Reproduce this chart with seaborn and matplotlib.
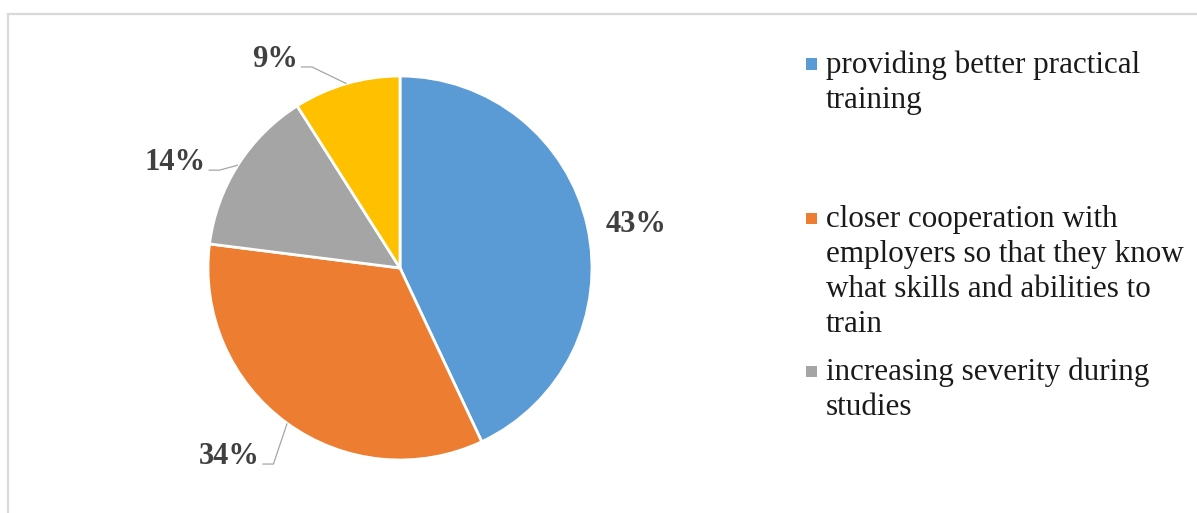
import numpy as np
import matplotlib
matplotlib.use("Agg")
import matplotlib.pyplot as plt
from matplotlib.patches import Rectangle
import seaborn as sns

# ---- data ----
categories = [
    "providing better practical\ntraining",
    "closer cooperation with\nemployers so that they know\nwhat skills and abilities to\ntrain",
    "increasing severity during\nstudies",
    "other",
]
values = [43, 34, 14, 9]
value_labels = ["43%", "34%", "14%", "9%"]
legend_shown = [True, True, True, False]
colors = ["#5B9BD5", "#ED7D31", "#A5A5A5", "#FFC000"]

sns.set_theme(style="white")
plt.rcParams["font.family"] = ["Liberation Serif", "DejaVu Serif"]

W, H = 1197, 513
fig = plt.figure(figsize=(W / 100, H / 100), dpi=100)
fig.patch.set_facecolor("white")

# chart frame (light gray, cut at right/bottom)
fig.patches.append(Rectangle((8 / W, -0.2), 1.3, 0.2 + 1 - 14 / H,
                             transform=fig.transFigure, fill=False,
                             edgecolor="#d9d9d9", linewidth=1.6, zorder=0))

# pie axes: centre at (400, 268) px, radius 192 px
cx, cy, R = 400, 268, 192
ax = fig.add_axes([0, 0, 700 / W, 1])
ax.pie(values, colors=sns.color_palette(colors), startangle=90, counterclock=False,
       radius=1.0, wedgeprops=dict(edgecolor="white", linewidth=2))
ax.set_xlim(-cx / R, (700 - cx) / R)
ax.set_ylim(-(H - cy) / R, cy / R)
ax.set_aspect("auto")
ax.axis("off")

# label layout: baseline point given as (radius, angle nudge in degrees)
label_r = [1.246, 1.355, 1.278, 1.233]
label_nudge = [-3.95, -5.1, 8.9, 15.67]
leader = [False, True, True, True]

total = float(sum(values))
start = 90.0
texts = []
mids = []
for v, lab, r, nd in zip(values, value_labels, label_r, label_nudge):
    sweep = 360.0 * v / total
    mid = start - sweep / 2
    start -= sweep
    mids.append(mid)
    a = np.deg2rad(mid + nd)
    t = ax.text(r * np.cos(a), r * np.sin(a), lab, ha="center", va="baseline",
                fontsize=22, fontweight="bold", color="#404040")
    texts.append(t)

fig.canvas.draw()
renderer = fig.canvas.get_renderer()
inv = ax.transData.inverted()
for t, mid, has in zip(texts, mids, leader):
    if not has:
        continue
    bb = t.get_window_extent(renderer)
    base_y = ax.transData.transform(t.get_position())[1]
    a = np.deg2rad(mid)
    p_edge = np.array([np.cos(a), np.sin(a)]) * 1.0
    p0 = inv.transform((bb.x1 + 3, base_y))
    p1 = inv.transform((bb.x1 + 14, base_y))
    ax.plot([p0[0], p1[0], p_edge[0]], [p0[1], p1[1], p_edge[1]],
            color="#a6a6a6", linewidth=0.9, solid_capstyle="butt", zorder=1)

# legend (manual, Excel-like layout)
legend_baselines = [73, 227, 380]
line_step = 35
text_x = 826
sq_x, sq = 806, 11
k = 0
for cat, col, show in zip(categories, colors, legend_shown):
    if not show:
        continue
    b = legend_baselines[k]
    k += 1
    fig.patches.append(Rectangle((sq_x / W, 1 - (b - 9 + sq / 2) / H), sq / W, sq / H,
                                 transform=fig.transFigure, facecolor=col,
                                 edgecolor="none"))
    for j, line in enumerate(cat.split("\n")):
        fig.text(text_x / W, 1 - (b + j * line_step) / H, line, ha="left",
                 va="baseline", fontsize=22.4, color="#1a1a1a")

fig.savefig("out.png", dpi=100, facecolor="white")
